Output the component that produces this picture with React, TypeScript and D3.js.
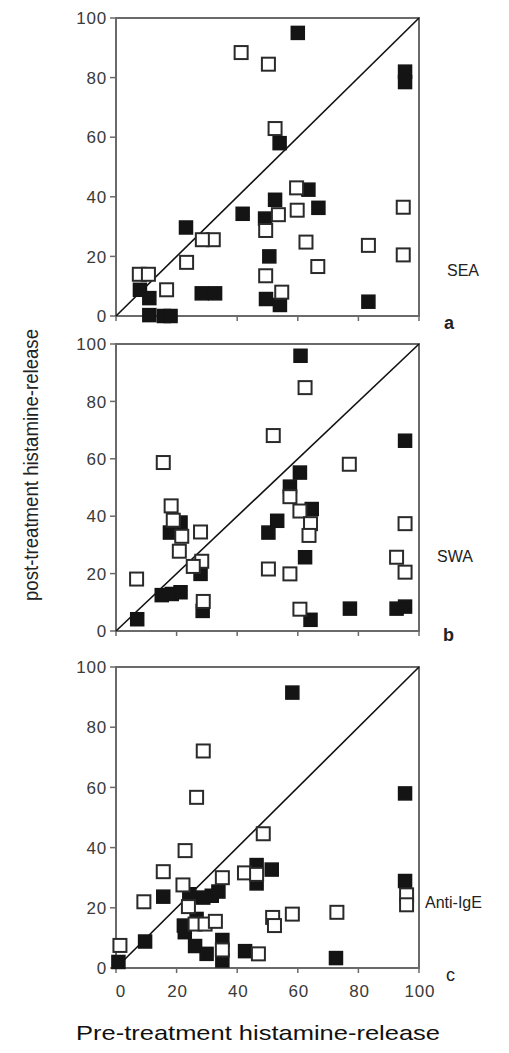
import React from "react";
import * as d3 from "d3";

// Panel a (SEA)
const seaFilled: [number, number][] = [
  [60, 95], [95.4, 82], [95.4, 78.5], [54, 58], [52.5, 39], [63.5, 42.4], [66.8, 36.3],
  [41.8, 34.3], [49.2, 32.7], [23.1, 29.7], [50.6, 20], [28.3, 7.6], [32.7, 7.6],
  [49.5, 5.7], [54.1, 3.7], [83.3, 4.8], [7.9, 8.8], [11, 6], [11, 0.3], [15.8, 0], [18, 0],
];
const seaOpen: [number, number][] = [
  [41.3, 88.4], [50.3, 84.5], [52.5, 62.9], [59.6, 43], [59.8, 35.5], [53.6, 34],
  [49.4, 28.7], [62.7, 24.8], [32.1, 25.6], [28.5, 25.6], [23.3, 18], [16.7, 8.8],
  [7.7, 14], [10.7, 14], [49.4, 13.5], [54.7, 8], [66.6, 16.6], [83.3, 23.7],
  [94.8, 36.5], [94.8, 20.5],
];

// Panel b (SWA)
const swaFilled: [number, number][] = [
  [60.9, 95.9], [95.4, 66.3], [60.7, 55.2], [57.4, 50.3], [64.6, 42.5], [53.2, 38.4],
  [50.3, 34.3], [21.3, 37.8], [17.8, 34.3], [62.4, 25.7], [27.9, 19.9], [28.6, 7],
  [15.1, 12.5], [18.4, 12.9], [21.3, 13.5], [7, 4.1], [64.2, 3.9], [77.2, 7.8],
  [92.6, 7.8], [95.4, 8.5],
];
const swaOpen: [number, number][] = [
  [62.4, 84.8], [51.9, 68.1], [15.6, 58.7], [77, 58.1], [57.4, 46.8], [60.7, 41.8],
  [64.2, 37.4], [63.7, 33.3], [18.2, 43.6], [18.9, 38.6], [21.7, 33], [20.9, 27.8],
  [27.9, 34.5], [28.3, 24.3], [25.5, 22.5], [28.8, 10.3], [6.8, 18.1], [50.3, 21.6],
  [57.4, 19.9], [60.7, 7.6], [95.4, 37.4], [92.6, 25.7], [95.4, 20.5],
];

// Panel c (Anti-IgE)
const igeFilled: [number, number][] = [
  [58.2, 91.5], [95.4, 58], [95.4, 28.9], [46.4, 34.2], [51.4, 32.7], [46.4, 28.1],
  [33.8, 25.4], [31.6, 24], [28.8, 23.4], [24.2, 24.5], [15.6, 23.7], [22.4, 14.1],
  [22.7, 11.9], [26.6, 16.3], [26.1, 7.3], [29.9, 4.7], [35.1, 9.3], [35.1, 2.5],
  [42.6, 5.6], [9.6, 8.8], [0.8, 2], [72.6, 3.3],
];
const igeOpen: [number, number][] = [
  [28.8, 72.1], [26.6, 56.7], [48.6, 44.6], [22.8, 39], [15.6, 32], [22.1, 27.6],
  [35.1, 30], [42.4, 31.6], [46.4, 31.1], [9.2, 22], [23.9, 20.4], [26.1, 14.6],
  [29.4, 14.6], [32.8, 15.5], [35.1, 6], [47, 4.7], [51.7, 16.8], [52.3, 14.1],
  [58.2, 17.9], [72.9, 18.5], [95.9, 24.3], [95.9, 21], [1.3, 7.5],
];

const ticks = [0, 20, 40, 60, 80, 100];
const panelNames = ["SEA", "SWA", "Anti-IgE"];
const panelLetters = ["a", "b", "c"];
const xTitle = "Pre-treatment histamine-release";
const yTitle = "post-treatment histamine-release";

const panels = [
  { filled: seaFilled, open: seaOpen, top: 18, bottom: 316, nameY: 276, letterY: 329, nameX: 447, letterX: 444 },
  { filled: swaFilled, open: swaOpen, top: 344, bottom: 631, nameY: 562, letterY: 641, nameX: 437, letterX: 443 },
  { filled: igeFilled, open: igeOpen, top: 667, bottom: 968, nameY: 908, letterY: 981, nameX: 425, letterX: 446 },
];

const X0 = 116;
const X1 = 419;
const SZ = 13;
const FONT = "'Liberation Sans', Arial, Helvetica, sans-serif";

function Panel({ p, i }: { p: typeof panels[number]; i: number }) {
  const x = d3.scaleLinear().domain([0, 100]).range([X0, X1]);
  const y = d3.scaleLinear().domain([0, 100]).range([p.bottom, p.top]);
  const axisColor = "#6a6a6a";
  return (
    <g>
      <rect x={X0} y={p.top} width={X1 - X0} height={p.bottom - p.top} fill="none" stroke={axisColor} strokeWidth={2} />
      {ticks.map((t) => (
        <g key={"y" + t}>
          <line x1={X0 - 6} x2={X0} y1={y(t)} y2={y(t)} stroke={axisColor} strokeWidth={1.5} />
          <text x={X0 - 9} y={y(t)} dy="0.36em" textAnchor="end" fontSize={17} letterSpacing={0.8} fill="#3a3a3a" fontFamily={FONT}>
            {t}
          </text>
        </g>
      ))}
      {ticks.map((t) => (
        <line key={"x" + t} x1={x(t)} x2={x(t)} y1={p.bottom} y2={p.bottom + 5} stroke={axisColor} strokeWidth={1.5} />
      ))}
      <line x1={x(0)} y1={y(0)} x2={x(100)} y2={y(100)} stroke="#111" strokeWidth={1.6} />
      {p.filled.map(([a, b], k) => (
        <rect key={"f" + k} x={x(a) - SZ / 2} y={y(b) - SZ / 2} width={SZ} height={SZ} fill="#141414" stroke="#141414" strokeWidth={1.5} />
      ))}
      {p.open.map(([a, b], k) => (
        <rect key={"o" + k} x={x(a) - SZ / 2} y={y(b) - SZ / 2} width={SZ} height={SZ} fill="#fff" stroke="#2a2a2a" strokeWidth={2} />
      ))}
      <text x={p.nameX} y={p.nameY} fontSize={16} fill="#222" fontFamily={FONT}>
        {panelNames[i]}
      </text>
      <text x={p.letterX} y={p.letterY} fontSize={18} fontWeight={i === 2 ? 400 : 700} fill="#222" fontFamily={FONT}>
        {panelLetters[i]}
      </text>
      {i === 2 &&
        ticks.map((t) => (
          <text key={"xl" + t} x={x(t) + (t === 0 ? 5 : 1)} y={997} textAnchor="middle" fontSize={17} letterSpacing={0.8} fill="#3a3a3a" fontFamily={FONT}>
            {t}
          </text>
        ))}
    </g>
  );
}

export default function App() {
  return (
    <svg width={509} height={1053} style={{ position: "absolute", left: 0, top: 0, background: "#fff" }}>
      <rect width={509} height={1053} fill="#fff" />
      {panels.map((p, i) => (
        <Panel key={i} p={p} i={i} />
      ))}
      <text x={258} y={1040} textAnchor="middle" fontSize={21} textLength={364} lengthAdjust="spacingAndGlyphs" fill="#111" fontFamily={FONT}>
        {xTitle}
      </text>
      <text
        transform="translate(38,465) rotate(-90)"
        textAnchor="middle"
        fontSize={21}
        textLength={272}
        lengthAdjust="spacingAndGlyphs"
        fill="#222"
        fontFamily={FONT}
      >
        {yTitle}
      </text>
    </svg>
  );
}
